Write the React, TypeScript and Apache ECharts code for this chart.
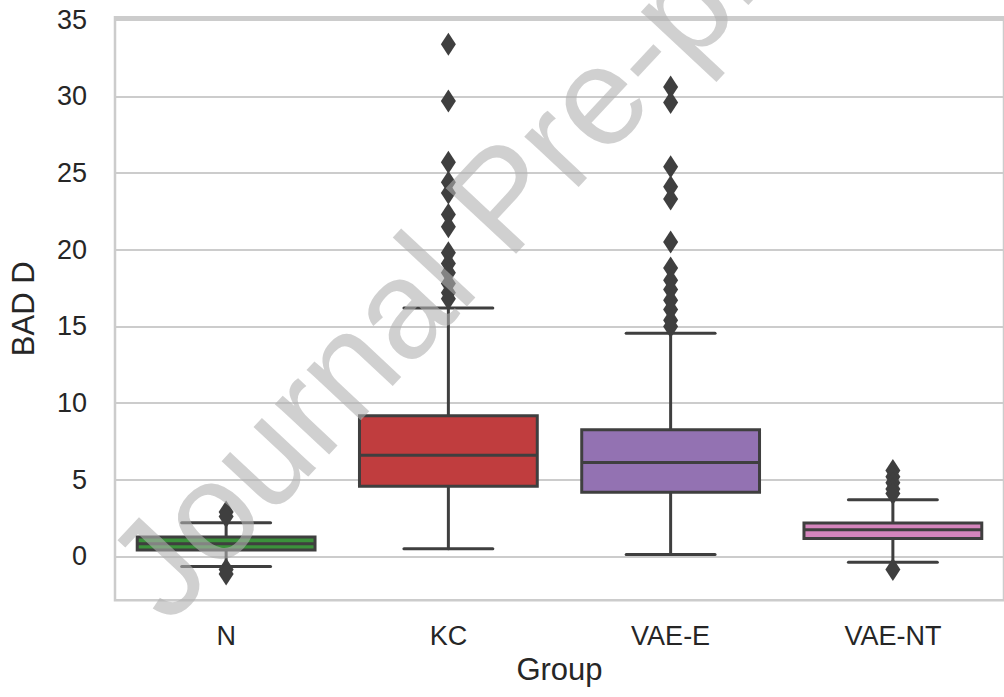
import React, { useEffect, useRef } from "react";
import * as echarts from "echarts";

// Groups and box statistics (BAD D)
const groups = ["N", "KC", "VAE-E", "VAE-NT"];
const whiskerLow = [-0.65, 0.5, 0.13, -0.37];
const q1 = [0.42, 4.58, 4.18, 1.18];
const median = [0.83, 6.6, 6.12, 1.74];
const q3 = [1.27, 9.18, 8.27, 2.19];
const whiskerHigh = [2.2, 16.2, 14.55, 3.7];

// Outliers per group
const outliersN = [2.9, 2.6, -0.85, -1.15];
const outliersKC = [33.4, 29.7, 25.7, 24.4, 23.7, 22.3, 21.5, 19.8, 19.1, 18.5, 17.8, 17.2, 16.8];
const outliersVAEE = [30.6, 29.6, 25.4, 24.1, 23.3, 20.5, 18.8, 18.0, 17.4, 16.7, 16.1, 15.4, 15.0];
const outliersVAENT = [5.6, 5.2, 4.8, 4.4, 4.1, -0.85];

const boxColors = ["#3b913b", "#c03d3e", "#9372b2", "#d585bd"];
const edge = "#3f3f3f";
const textColor = "#262626";
const fontFamily = '"Liberation Sans", Arial, Helvetica, sans-serif';

export default function App() {
  const ref = useRef<HTMLDivElement>(null);

  useEffect(() => {
    if (!ref.current) return;
    const chart = echarts.init(ref.current, undefined, { renderer: "svg" });

    const boxData = groups.map((_, i) => [i, whiskerLow[i], q1[i], median[i], q3[i], whiskerHigh[i]]);
    const outlierData: number[][] = [];
    [outliersN, outliersKC, outliersVAEE, outliersVAENT].forEach((arr, i) =>
      arr.forEach((v) => outlierData.push([i, v]))
    );

    const renderBox = (params: any, api: any) => {
      const idx = api.value(0);
      const lo = api.coord([idx, api.value(1)]);
      const p1 = api.coord([idx, api.value(2)]);
      const pm = api.coord([idx, api.value(3)]);
      const p3 = api.coord([idx, api.value(4)]);
      const hi = api.coord([idx, api.value(5)]);
      const band = api.size([1, 0])[0];
      const bw = band * 0.8;
      const cw = bw / 2;
      const x = lo[0];
      const lw = 3;
      const line = { stroke: edge, lineWidth: lw, lineCap: "round" };
      return {
        type: "group",
        children: [
          { type: "line", shape: { x1: x, y1: p1[1], x2: x, y2: lo[1] }, style: line },
          { type: "line", shape: { x1: x, y1: p3[1], x2: x, y2: hi[1] }, style: line },
          { type: "line", shape: { x1: x - cw / 2, y1: lo[1], x2: x + cw / 2, y2: lo[1] }, style: line },
          { type: "line", shape: { x1: x - cw / 2, y1: hi[1], x2: x + cw / 2, y2: hi[1] }, style: line },
          {
            type: "rect",
            shape: { x: x - bw / 2, y: p3[1], width: bw, height: p1[1] - p3[1] },
            style: { fill: boxColors[params.dataIndex], stroke: edge, lineWidth: lw },
          },
          { type: "line", shape: { x1: x - bw / 2, y1: pm[1], x2: x + bw / 2, y2: pm[1] }, style: { stroke: edge, lineWidth: lw } },
        ],
      };
    };

    chart.setOption({
      animation: false,
      backgroundColor: "#ffffff",
      grid: {
        left: 111,
        right: -1,
        top: 17.3,
        bottom: 96.8,
        show: true,
        borderColor: "#cccccc",
        borderWidth: 2.5,
        backgroundColor: "transparent",
      },
      xAxis: {
        type: "category",
        data: groups,
        boundaryGap: true,
        axisLine: { show: false },
        axisTick: { show: false },
        splitLine: { show: false },
        axisLabel: { color: textColor, fontSize: 27, fontFamily, margin: 22 },
        name: "Group",
        nameLocation: "middle",
        nameGap: 54,
        nameTextStyle: { color: textColor, fontSize: 31, fontFamily },
      },
      yAxis: {
        type: "value",
        min: -2.85,
        max: 35.15,
        splitNumber: 8,
        axisLine: { show: false },
        axisTick: { show: false },
        splitLine: { show: true, lineStyle: { color: "#cccccc", width: 2 } },
        axisLabel: {
          color: textColor,
          fontSize: 27,
          fontFamily,
          margin: 28,
          showMinLabel: false,
          showMaxLabel: false,
        },
        name: "BAD D",
        nameLocation: "middle",
        nameGap: 76,
        nameTextStyle: { color: textColor, fontSize: 31, fontFamily },
      },
      series: [
        {
          type: "custom",
          renderItem: renderBox,
          data: boxData,
          encode: { x: 0, y: [1, 2, 3, 4, 5] },
          z: 2,
        },
        {
          type: "scatter",
          data: outlierData,
          symbol: "diamond",
          symbolSize: [15, 23],
          itemStyle: { color: edge, opacity: 1 },
          z: 3,
        },
      ],
      graphic: [
        {
          type: "text",
          x: 502,
          y: 198,
          rotation: (47 * Math.PI) / 180,
          z: 100,
          silent: true,
          style: {
            text: "Journal Pre-proof",
            font: `140px ${fontFamily}`,
            fill: "rgba(176,176,176,0.6)",
            align: "center",
            verticalAlign: "middle",
          },
        },
      ],
    });

    return () => chart.dispose();
  }, []);

  return (
    <div
      ref={ref}
      style={{ position: "absolute", left: 0, top: 0, width: 1004, height: 697 }}
    />
  );
}
